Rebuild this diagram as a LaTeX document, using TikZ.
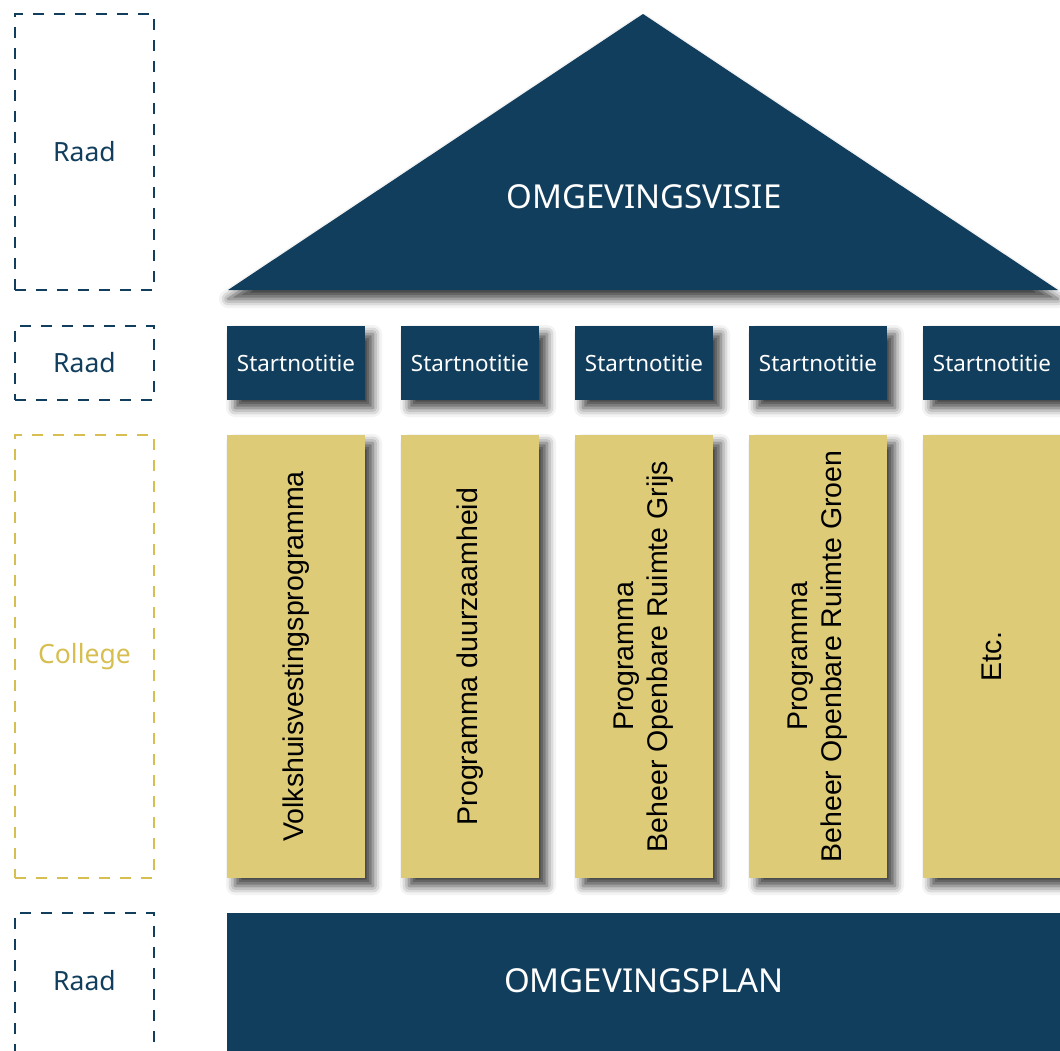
\documentclass[tikz,border=0pt]{standalone}
\usepackage{fontspec}
\setmainfont{Noto Sans}
\newfontfamily\colfont{Liberation Sans}
\usetikzlibrary{shadows.blur}
\definecolor{navy}{HTML}{123E5D}
\definecolor{gold}{HTML}{DDCB78}
\definecolor{golddash}{HTML}{D6BE50}

\begin{document}
\begin{tikzpicture}[x=1pt,y=-1pt,
    navybox/.style={fill=navy,text=white,inner sep=0pt,
        blur shadow={shadow xshift=8pt,shadow yshift=-8pt,shadow blur radius=9pt,shadow opacity=75}},
    progbox/.style={fill=gold,text=black,inner sep=0pt,
        blur shadow={shadow xshift=8pt,shadow yshift=-8pt,shadow blur radius=9pt,shadow opacity=75}},
    levelbox/.style={draw=#1,line width=2.6pt,dash pattern=on 11pt off 10pt,inner sep=0pt},
    levellabel/.style={font=\fontsize{26.5}{30}\selectfont},
    proglabel/.style={rotate=90,align=center,font=\colfont\fontsize{28.5}{34}\selectfont}]

        \useasboundingbox (0,0) rectangle (1060,1050);
        \clip (0,0) rectangle (1060,1050);

        % levels
        \node[levelbox=navy,minimum width=139pt,minimum height=276pt,text=navy,levellabel] (raad1) at (84.5,152) {Raad};
        \node[levelbox=navy,minimum width=139pt,minimum height=74pt,text=navy,levellabel] (raad2) at (84.5,363) {Raad};
        \node[levelbox=golddash,minimum width=139pt,minimum height=443pt,text=golddash,levellabel] (college) at (84.5,656.5) {College};
        \node[levelbox=navy,minimum width=139pt,minimum height=200pt] (raad4) at (84.5,1013) {};
        \node[text=navy,levellabel] (raad4label) at (84.5,981) {Raad};

        % roof
        \fill[navy,blur shadow={shadow xshift=0pt,shadow yshift=-9pt,shadow blur radius=9pt,shadow opacity=75}]
            (228,290) -- (643,14) -- (1058,290) -- cycle;
        \node[text=white,font=\fontsize{33}{38}\selectfont] (visie) at (644,197) {OMGEVINGSVISIE};

        % startnotities
        \foreach \i in {1,...,5}
            \node[navybox,minimum width=138pt,minimum height=74pt,
                  font=\fontsize{22.4}{26}\selectfont] (start\i) at (122+174*\i,363) {Startnotitie};

        % programmas
        \node[progbox,minimum width=138pt,minimum height=443pt] (prog1) at (296,656.5) {};
        \node[progbox,minimum width=138pt,minimum height=443pt] (prog2) at (470,656.5) {};
        \node[progbox,minimum width=138pt,minimum height=443pt] (prog3) at (644,656.5) {};
        \node[progbox,minimum width=138pt,minimum height=443pt] (prog4) at (818,656.5) {};
        \node[progbox,minimum width=138pt,minimum height=443pt] (prog5) at (992,656.5) {};
        \node[proglabel] (prog1label) at (prog1) {Volkshuisvestingsprogramma};
        \node[proglabel] (prog2label) at (prog2) {Programma duurzaamheid};
        \node[proglabel] (prog3label) at (prog3) {Programma\\Beheer Openbare Ruimte Grijs};
        \node[proglabel] (prog4label) at (prog4) {Programma\\Beheer Openbare Ruimte Groen};
        \node[proglabel] (prog5label) at (prog5) {Etc.};

        % fundament
        \fill[navy] (227,913) rectangle (1070,1070);
        \node[text=white,font=\fontsize{33}{38}\selectfont] (plan) at (644,981) {OMGEVINGSPLAN};
\end{tikzpicture}
\end{document}
